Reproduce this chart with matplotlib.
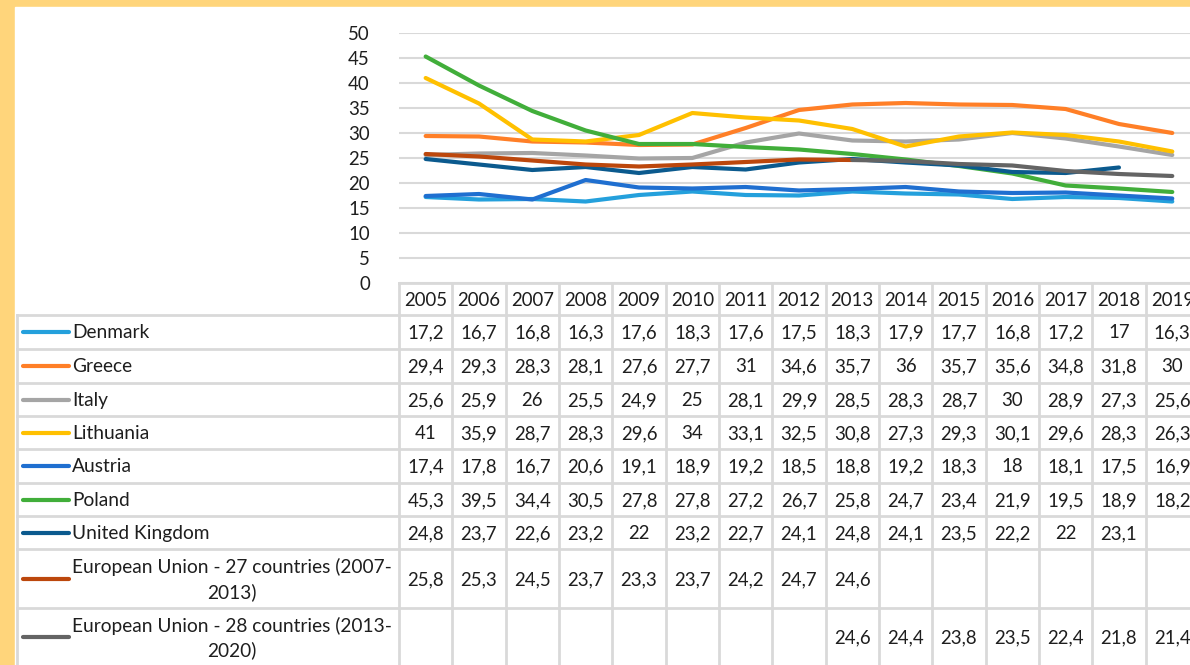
import numpy as np
import matplotlib
matplotlib.use('Agg')
from matplotlib import pyplot as plt

# Data
years = ['2005', '2006', '2007', '2008', '2009', '2010', '2011', '2012',
         '2013', '2014', '2015', '2016', '2017', '2018', '2019']

series_names = ['Denmark', 'Greece', 'Italy', 'Lithuania', 'Austria', 'Poland',
                'United Kingdom',
                'European Union - 27 countries (2007-\n2013)',
                'European Union - 28 countries (2013-\n2020)']

denmark = [17.2, 16.7, 16.8, 16.3, 17.6, 18.3, 17.6, 17.5, 18.3, 17.9, 17.7, 16.8, 17.2, 17, 16.3]
greece = [29.4, 29.3, 28.3, 28.1, 27.6, 27.7, 31, 34.6, 35.7, 36, 35.7, 35.6, 34.8, 31.8, 30]
italy = [25.6, 25.9, 26, 25.5, 24.9, 25, 28.1, 29.9, 28.5, 28.3, 28.7, 30, 28.9, 27.3, 25.6]
lithuania = [41, 35.9, 28.7, 28.3, 29.6, 34, 33.1, 32.5, 30.8, 27.3, 29.3, 30.1, 29.6, 28.3, 26.3]
austria = [17.4, 17.8, 16.7, 20.6, 19.1, 18.9, 19.2, 18.5, 18.8, 19.2, 18.3, 18, 18.1, 17.5, 16.9]
poland = [45.3, 39.5, 34.4, 30.5, 27.8, 27.8, 27.2, 26.7, 25.8, 24.7, 23.4, 21.9, 19.5, 18.9, 18.2]
uk = [24.8, 23.7, 22.6, 23.2, 22, 23.2, 22.7, 24.1, 24.8, 24.1, 23.5, 22.2, 22, 23.1, None]
eu27 = [25.8, 25.3, 24.5, 23.7, 23.3, 23.7, 24.2, 24.7, 24.6, None, None, None, None, None, None]
eu28 = [None, None, None, None, None, None, None, None, 24.6, 24.4, 23.8, 23.5, 22.4, 21.8, 21.4]

all_values = [denmark, greece, italy, lithuania, austria, poland, uk, eu27, eu28]
colors = ['#24A0DC', '#FF7F27', '#A5A5A5', '#FFC000', '#1F6FD0', '#41AE3A',
          '#0B5A8E', '#BC470C', '#646464']

y_ticks = [0, 5, 10, 15, 20, 25, 30, 35, 40, 45, 50]

# Layout (pixels)
W, H = 1190, 665
grid_col = '#D9D9D9'
text_col = '#1E1E1E'
font = ['Lato', 'DejaVu Sans']
fs = 13.4
fs_label = 13.8

left_tab = 17
col_x0 = 399
col_w = 53.33
head_top = 283
row_edges = [315, 349, 383, 416, 449, 483, 516, 549, 608, 667]

fig = plt.figure(figsize=(W / 100, H / 100), dpi=100)
fig.patch.set_facecolor('#FFD57B')

# background axes in pixel coords
bg = fig.add_axes([0, 0, 1, 1])
bg.set_xlim(0, W)
bg.set_ylim(H, 0)
bg.axis('off')
bg.add_patch(plt.Rectangle((15, 7), W, H, color='white', zorder=0))

# table lines
n_cols = len(years)
right = col_x0 + col_w * n_cols
bg.plot([col_x0, right], [head_top, head_top], color=grid_col, lw=2)
for y in row_edges:
    bg.plot([left_tab, right], [y, y], color=grid_col, lw=2)
bg.plot([left_tab, left_tab], [row_edges[0], H], color=grid_col, lw=2)
for k in range(n_cols + 1):
    x = col_x0 + col_w * k
    bg.plot([x, x], [head_top, H], color=grid_col, lw=2)

# header
for k, yr in enumerate(years):
    bg.text(col_x0 + col_w * (k + 0.5), (head_top + row_edges[0]) / 2 + 1, yr,
            ha='center', va='center', fontsize=fs, family=font, color=text_col)

# rows
for r, name in enumerate(series_names):
    yc = (row_edges[r] + row_edges[r + 1]) / 2
    if r == len(series_names) - 1:
        yc = 637
    bg.plot([23, 69], [yc, yc], color=colors[r], lw=3, solid_capstyle='round')
    bg.text(72, yc + 1, name, ha='left', va='center', fontsize=fs_label, family=font,
            color=text_col, multialignment='center', linespacing=1.45)
    for k, v in enumerate(all_values[r]):
        if v is None:
            continue
        s = ('%g' % v).replace('.', ',')
        bg.text(col_x0 + col_w * (k + 0.5), yc + 1, s, ha='center', va='center',
                fontsize=fs, family=font, color=text_col)

# chart axes
ax = fig.add_axes([col_x0 / W, (H - head_top) / H, col_w * n_cols / W, 250 / H])
ax.set_facecolor('none')
ax.set_xlim(-0.5, n_cols - 0.5)
ax.set_ylim(0, 50)
for s in ax.spines.values():
    s.set_visible(False)
ax.set_xticks([])
ax.set_yticks(y_ticks)
ax.set_yticklabels([str(t) for t in y_ticks], fontsize=fs, family=font, color=text_col)
ax.tick_params(axis='y', length=0, pad=21)
ax.yaxis.grid(True, color=grid_col, lw=1.5)
ax.set_axisbelow(True)

x = np.arange(n_cols)
for r in range(len(all_values)):
    vals = np.array([np.nan if v is None else v for v in all_values[r]], dtype=float)
    ax.plot(x, vals, color=colors[r], lw=3, solid_capstyle='round',
            solid_joinstyle='round', zorder=3 + r, clip_on=False)

fig.savefig('out.png', dpi=100, facecolor=fig.get_facecolor())
